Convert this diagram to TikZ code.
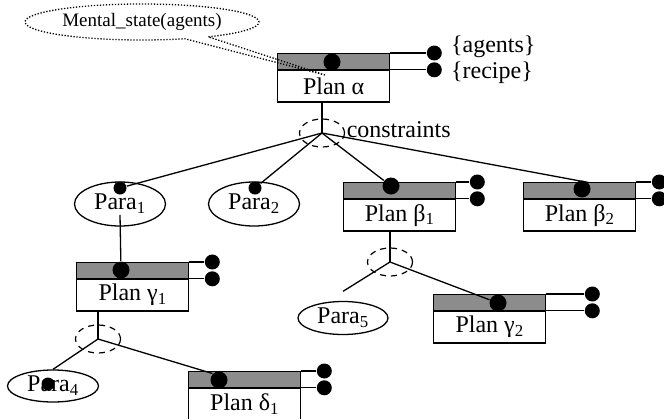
\documentclass[tikz,border=0pt]{standalone}
\usepackage{fontspec}
\setmainfont{Liberation Serif}
\usetikzlibrary{positioning,shapes.geometric,shapes.callouts}

\begin{document}
\begin{tikzpicture}[x=1pt,y=-1pt,line width=1.3pt,font=\fontsize{24}{28}\selectfont,
	planbar/.style={draw,fill=black!45,minimum width=112pt,minimum height=15.5pt,inner sep=0pt,anchor=north west},
	planbox/.style={draw,minimum width=112pt,minimum height=31.5pt,inner sep=0pt},
	bigdot/.style={circle,fill,inner sep=0pt,minimum size=17pt},
	wiredot/.style={circle,fill,inner sep=0pt,minimum size=15pt},
	paradot/.style={circle,fill,inner sep=0pt,minimum size=13pt},
	para/.style={draw,ellipse,inner sep=0pt,minimum width=91pt},
	andring/.style={draw,ellipse,dash pattern=on 6pt off 5pt,line width=1.2pt,minimum width=45pt,minimum height=28pt,inner sep=0pt}]
					\useasboundingbox (0,0) rectangle (664,418);
					% Create Plans (bar, box, dot and the two wires)
					\foreach \nm/\px/\py/\lab/\dotx/\doty/\wire in {a/277/53/{Plan α}/332/62/44,
						b1/343/182/{Plan β\textsubscript{1}}/391/186/21,
						b2/523/182/{Plan β\textsubscript{2}}/582/189/23,
						g1/76/262/{Plan γ\textsubscript{1}}/121/270/23,
						g2/433/294/{Plan γ\textsubscript{2}}/498/303/46,
						d1/188/371/{Plan δ\textsubscript{1}}/219/380/23}{
						\node[planbar] (\nm-bar) at (\px,\py) {};
						\node[planbox,below=0pt of \nm-bar] (\nm) {\lab};
						\node[bigdot] (\nm-dot) at (\dotx,\doty) {};
						\node[wiredot] (\nm-ag) at ([xshift=\wire pt]\nm-bar.north east) {};
						\node[wiredot] (\nm-rc) at ([xshift=\wire pt]\nm-bar.south east) {};
						\draw (\nm-bar.north east) -- (\nm-ag);
						\draw (\nm-bar.south east) -- (\nm-rc);}
					\node[anchor=west,inner sep=0pt] (agl) at ([xshift=8pt,yshift=6pt]a-ag.east) {\{agents\}};
					\node[anchor=west,inner sep=0pt] (rcl) at ([xshift=8pt,yshift=-3pt]a-rc.east) {\{recipe\}};
					% Parameters
					\node[para,minimum height=44pt] (p1) at (120,204) {Para\textsubscript{1}};
					\node[para,minimum height=44pt] (p2) at (254,204) {Para\textsubscript{2}};
					\node[para,minimum height=32pt] (p4) at (53,386) {Para\textsubscript{4}};
					\node[para,minimum height=33pt,minimum width=90pt] (p5) at (343,318) {Para\textsubscript{5}};
					\node[paradot] (p1-dot) at (120,188) {};
					\node[paradot] (p2-dot) at (255,188) {};
					\node[paradot] (p4-dot) at (48,384) {};
					% Junctions with their constraint rings
					\coordinate (ja) at (322,133);
					\coordinate (jb) at (390,262);
					\coordinate (jg) at (98,339);
					\node[andring] (ja-ring) at (ja) {};
					\node[andring] (jb-ring) at (jb) {};
					\node[andring] (jg-ring) at (jg) {};
					\node[anchor=west,inner sep=0pt] (cons) at ([xshift=1pt,yshift=3pt]ja-ring.east) {constraints};
					% Connect
					\draw (ja |- a.south) -- (ja);
					\draw (ja) -- (p1-dot);
					\draw (ja) -- (p2-dot);
					\draw (ja) -- (b1-dot);
					\draw (ja) -- (b2-dot.north east);
					\draw (jb |- b1.south) -- (jb);
					\draw (jb) -- ([yshift=9.5pt]p5.north);
					\draw (jb) -- (g2-dot);
					\draw (jg |- g1.south) -- (jg);
					\draw (jg) -- (p4.north);
					\draw (jg) -- (d1-dot.north west);
					\draw ([yshift=-11pt]p1.center) -- (g1-dot);
					% Mental state callout
					\coordinate (tip) at (325,75);
					\node[ellipse callout,draw,dash pattern=on 1.3pt off 1.7pt,line width=1.3pt,minimum width=234pt,minimum height=36pt,inner sep=0pt,
						callout absolute pointer={(tip)},callout pointer arc=13,font=\fontsize{19}{21}\selectfont] (ms) at (142,22) {Mental\_state(agents)};
				\end{tikzpicture}
\end{document}
